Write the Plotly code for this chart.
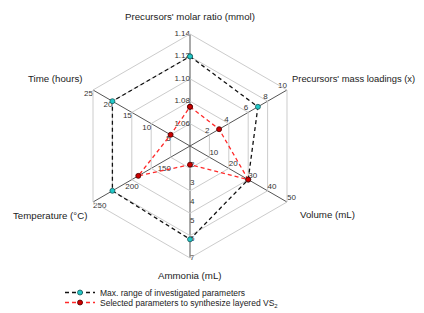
import plotly.graph_objects as go

# ---- data ----
axes_names = ["Precursors' molar ratio (mmol)", "Precursors' mass loadings (x)", "Volume (mL)",
              "Ammonia (mL)", "Temperature (°C)", "Time (hours)"]
axis_min = [1.04, 0, 0, 1, 100, 0]
axis_max = [1.14, 10, 50, 7, 250, 25]
axis_ticks = [
    [1.06, 1.08, 1.10, 1.12, 1.14],
    [2, 4, 6, 8, 10],
    [10, 20, 30, 40, 50],
    [2, 3, 4, 5, 6, 7],
    [150, 200, 250],
    [5, 10, 15, 20, 25],
]
tick_text = [
    ["1.06", "1.08", "1.10", "1.12", "1.14"],
    ["2", "4", "6", "8", "10"],
    ["10", "20", "30", "40", "50"],
    ["2", "3", "4", "5", "6", "7"],
    ["150", "200", "250"],
    ["5", "10", "15", "20", "25"],
]
max_range = [1.12, 7, 30, 6, 220, 20]
selected = [1.075, 3, 30, 2, 180, 5]

series_names = ["Max. range of investigated parameters",
                "Selected parameters to synthesize layered VS<sub>2</sub>"]

cats = ["c%d" % i for i in range(len(axes_names))]


def norm(v, i):
    return (v - axis_min[i]) / (axis_max[i] - axis_min[i])


fig = go.Figure()

# tick labels
tick_pos = ["middle left", "top left", "top right", "middle right", "bottom right", "bottom left"]
for i in range(len(cats)):
    fig.add_trace(go.Scatterpolar(
        r=[norm(v, i) for v in axis_ticks[i]], theta=[cats[i]] * len(axis_ticks[i]),
        mode="text", text=tick_text[i], textposition=tick_pos[i],
        textfont=dict(size=8, color="#333", family="Liberation Sans, Arial"),
        showlegend=False, hoverinfo="skip"))

styles = [
    dict(line="#111111", mfill="#22c8c8", mline="#1b5b5b", legend="legend"),
    dict(line="#ff2a2a", mfill="#cc0000", mline="#4a0000", legend="legend2"),
]
for name, vals, st in zip(series_names, [max_range, selected], styles):
    rr = [norm(v, i) for i, v in enumerate(vals)]
    fig.add_trace(go.Scatterpolar(
        r=rr + rr[:1], theta=cats + cats[:1], mode="lines+markers", name=name,
        legend=st["legend"],
        line=dict(color=st["line"], width=1.3, dash="4px,3px"),
        marker=dict(size=5, color=st["mfill"], line=dict(color=st["mline"], width=0.8)),
    ))

OFF = 8  # page body margin
W, H = 424 - OFF, 313 - OFF
L, T, S = 70, 26, 224
R, B = W - L - S, H - T - S


def px(x, y):
    x -= OFF
    y -= OFF
    return (x - L) / S, (T + S - y) / S


title_specs = [
    (190, 17, "center", 9.7),
    (290, 79, "left", 9.4),
    (298, 214, "left", 9.7),
    (190, 275, "center", 9.7),
    (89, 215, "right", 9.7),
    (85, 79, "right", 9.7),
]
annotations = []
for name, (x, y, anc, fs) in zip(axes_names, title_specs):
    ax, ay = px(x, y)
    annotations.append(dict(x=ax, y=ay, xref="paper", yref="paper", text=name, showarrow=False,
                            xanchor=anc, yanchor="middle",
                            font=dict(size=fs, color="#222", family="Liberation Sans, Arial")))

leg_common = dict(xref="container", yref="container", xanchor="left", yanchor="top",
                  bgcolor="rgba(0,0,0,0)", font=dict(size=8.5, color="#222"), itemwidth=30)

fig.update_layout(
    width=W, height=H,
    margin=dict(l=L, r=R, t=T, b=B, autoexpand=False),
    paper_bgcolor="white", plot_bgcolor="white",
    font=dict(family="Liberation Sans, Arial", color="#222"),
    polar=dict(
        bgcolor="white",
        gridshape="linear",
        domain=dict(x=[0, 1], y=[0, 1]),
        angularaxis=dict(type="category", categoryarray=cats, rotation=90, direction="clockwise",
                         showticklabels=False, ticks="", showgrid=True, gridcolor="#555",
                         gridwidth=1, showline=True, linecolor="#cccccc", linewidth=1),
        radialaxis=dict(range=[0, 1], tickvals=[0.2, 0.4, 0.6, 0.8, 1.0], showticklabels=False,
                        ticks="", showgrid=True, gridcolor="#cccccc", gridwidth=1, showline=False),
    ),
    annotations=annotations,
    legend=dict(x=52 / W, y=1 - 270 / H, **leg_common),
    legend2=dict(x=52 / W, y=1 - 280 / H, **leg_common),
    showlegend=True,
)

fig.write_html("out.html")
